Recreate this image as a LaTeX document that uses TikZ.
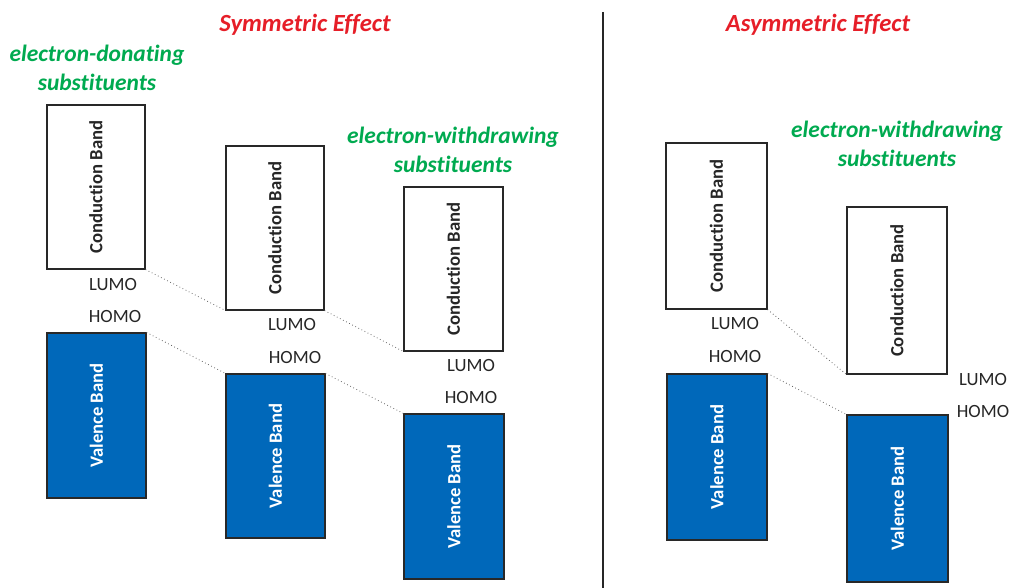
\documentclass[tikz,border=0pt]{standalone}
\usepackage{fontspec}
\setmainfont{Carlito}[Ligatures=NoCommon]
\usetikzlibrary{fit}
\definecolor{titlered}{RGB}{230,30,40}
\definecolor{subgreen}{RGB}{0,170,80}
\definecolor{bandblue}{RGB}{0,104,186}
\definecolor{edgegray}{RGB}{40,40,40}
\begin{document}
\begin{tikzpicture}[x=0.75pt,y=-0.75pt,
  heading/.style={font=\fontsize{18.5}{22}\selectfont\bfseries\itshape, text=titlered},
  subst/.style={font=\fontsize{17.6}{22}\selectfont\bfseries\itshape, text=subgreen, align=center},
  bandtext/.style={font=\fontsize{14}{16}\selectfont\bfseries},
  cband/.style={draw=edgegray, line width=0.8pt, fill=white, inner sep=0pt,
    label={[bandtext, rotate=90, text=black!85]center:Conduction Band}},
  vband/.style={draw=edgegray, line width=0.8pt, fill=bandblue, inner sep=0pt,
    label={[bandtext, rotate=90, text=white]center:Valence Band}},
  level/.style={font=\fontsize{14}{16}\selectfont, text=black!85},
  link/.style={draw=black!60, dotted, line width=0.6pt}
]
\useasboundingbox (0,0) rectangle (1011,588);

% divider between the two panels
\coordinate (divtop) at (603,12);
\coordinate (divbot) at (603,588);
\draw[line width=1.2pt, black!85] (divtop) -- (divbot);

% headings
\node[heading] (symtitle) at (305,25) {Symmetric Effect};
\node[heading] (asymtitle) at (818,25) {Asymmetric Effect};
\node[subst] (donating) at (97,68) {electron-donating\\substituents};
\node[subst] (withdrawL) at (453,150) {electron-withdrawing\\substituents};
\node[subst] (withdrawR) at (897,144) {electron-withdrawing\\substituents};

% symmetric effect: conduction bands
\node[cband, fit={(47,105) (145,269)}] (cb1) {};
\node[cband, fit={(226,146) (324,310)}] (cb2) {};
\node[cband, fit={(404,187) (503,351)}] (cb3) {};
% symmetric effect: valence bands
\node[vband, fit={(47,333) (146,498)}] (vb1) {};
\node[vband, fit={(226,374) (325,538)}] (vb2) {};
\node[vband, fit={(404,414) (504,579)}] (vb3) {};

% asymmetric effect
\node[cband, fit={(666,143) (767,309)}] (cb4) {};
\node[cband, fit={(847,207) (947,374)}] (cb5) {};
\node[vband, fit={(667,374) (767,540)}] (vb4) {};
\node[vband, fit={(847,415) (948,582)}] (vb5) {};

% frontier orbital labels
\node[level] (lumo1) at (113,285) {LUMO};
\node[level] (homo1) at (115,317) {HOMO};
\node[level] (lumo2) at (292,325) {LUMO};
\node[level] (homo2) at (295,358) {HOMO};
\node[level] (lumo3) at (471,366) {LUMO};
\node[level] (homo3) at (471,398) {HOMO};
\node[level] (lumo4) at (735,324) {LUMO};
\node[level] (homo4) at (735,357) {HOMO};
\node[level] (lumo5) at (983,380) {LUMO};
\node[level] (homo5) at (983,412) {HOMO};

% band-edge shifts
\draw[link] (cb1.south east) -- (cb2.south west);
\draw[link] (cb2.south east) -- (cb3.south west);
\draw[link] (vb1.north east) -- (vb2.north west);
\draw[link] (vb2.north east) -- (vb3.north west);
\draw[link] (cb4.south east) -- (cb5.south west);
\draw[link] (vb4.north east) -- (vb5.north west);
\end{tikzpicture}
\end{document}
